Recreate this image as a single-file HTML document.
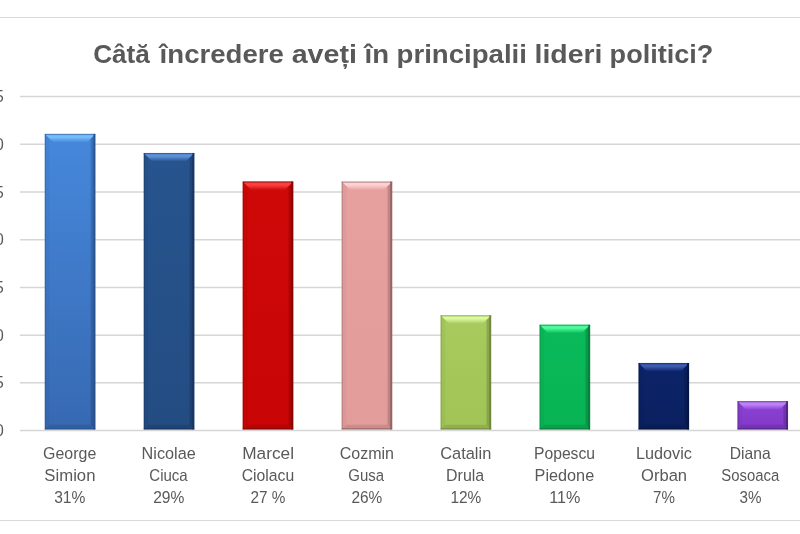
<!DOCTYPE html>
<html lang="ro"><head><meta charset="utf-8"><title>Câtă încredere aveți în principalii lideri politici?</title>
<style>html,body{margin:0;padding:0;background:#fff}body{width:800px;height:534px;overflow:hidden}svg{display:block}text{font-family:"Liberation Sans",sans-serif;fill:#595959}</style></head><body>
<svg width="800" height="534" viewBox="0 0 800 534">
<rect width="800" height="534" fill="#fff"/>
<line x1="0" y1="17.5" x2="800" y2="17.5" stroke="#d9d9d9" stroke-width="1"/>
<line x1="0" y1="520.5" x2="800" y2="520.5" stroke="#d9d9d9" stroke-width="1"/>
<line x1="20" y1="96.50" x2="800" y2="96.50" stroke="#d6d6d6" stroke-width="1.5"/>
<line x1="20" y1="144.23" x2="800" y2="144.23" stroke="#d6d6d6" stroke-width="1.5"/>
<line x1="20" y1="191.96" x2="800" y2="191.96" stroke="#d6d6d6" stroke-width="1.5"/>
<line x1="20" y1="239.69" x2="800" y2="239.69" stroke="#d6d6d6" stroke-width="1.5"/>
<line x1="20" y1="287.41" x2="800" y2="287.41" stroke="#d6d6d6" stroke-width="1.5"/>
<line x1="20" y1="335.14" x2="800" y2="335.14" stroke="#d6d6d6" stroke-width="1.5"/>
<line x1="20" y1="382.87" x2="800" y2="382.87" stroke="#d6d6d6" stroke-width="1.5"/>
<line x1="20" y1="430.60" x2="800" y2="430.60" stroke="#d6d6d6" stroke-width="1.5"/>
<g>
<text transform="translate(93.15 63.00) scale(1.0479 1)" font-size="25" font-weight="bold" fill="#4f555b">Câtă</text>
<text transform="translate(159.60 63.00) scale(1.1042 1)" font-size="25" font-weight="bold" fill="#4f555b">încredere</text>
<text transform="translate(291.64 63.00) scale(1.1468 1)" font-size="25" font-weight="bold" fill="#4f555b">aveți</text>
<text transform="translate(364.60 63.00) scale(1.1034 1)" font-size="25" font-weight="bold" fill="#4f555b">în</text>
<text transform="translate(396.57 63.00) scale(1.1048 1)" font-size="25" font-weight="bold" fill="#4f555b">principalii</text>
<text transform="translate(534.51 63.00) scale(1.1378 1)" font-size="25" font-weight="bold" fill="#4f555b">lideri</text>
<text transform="translate(609.60 63.00) scale(1.0836 1)" font-size="25" font-weight="bold" fill="#4f555b">politici?</text>
</g>
<text x="3.9" y="102.10" font-size="15.8" text-anchor="end">35</text>
<text x="3.9" y="149.83" font-size="15.8" text-anchor="end">30</text>
<text x="3.9" y="197.56" font-size="15.8" text-anchor="end">25</text>
<text x="3.9" y="245.29" font-size="15.8" text-anchor="end">20</text>
<text x="3.9" y="293.01" font-size="15.8" text-anchor="end">15</text>
<text x="3.9" y="340.74" font-size="15.8" text-anchor="end">10</text>
<text x="3.9" y="388.47" font-size="15.8" text-anchor="end">5</text>
<text x="3.9" y="436.20" font-size="15.8" text-anchor="end">0</text>
<defs>
<linearGradient id="m0" x1="0" y1="0" x2="0" y2="1"><stop offset="0" stop-color="#4688dc"/><stop offset="1" stop-color="#3769b2"/></linearGradient>
<linearGradient id="t0" x1="0" y1="0" x2="0" y2="1"><stop offset="0" stop-color="#74bcfa"/><stop offset="0.4" stop-color="#74bcfa"/><stop offset="1" stop-color="#4688dc"/></linearGradient>
<linearGradient id="m1" x1="0" y1="0" x2="0" y2="1"><stop offset="0" stop-color="#27548e"/><stop offset="1" stop-color="#234c82"/></linearGradient>
<linearGradient id="t1" x1="0" y1="0" x2="0" y2="1"><stop offset="0" stop-color="#5c92da"/><stop offset="0.4" stop-color="#5c92da"/><stop offset="1" stop-color="#27548e"/></linearGradient>
<linearGradient id="m2" x1="0" y1="0" x2="0" y2="1"><stop offset="0" stop-color="#cf0808"/><stop offset="1" stop-color="#c90505"/></linearGradient>
<linearGradient id="t2" x1="0" y1="0" x2="0" y2="1"><stop offset="0" stop-color="#fb4040"/><stop offset="0.4" stop-color="#fb4040"/><stop offset="1" stop-color="#cf0808"/></linearGradient>
<linearGradient id="m3" x1="0" y1="0" x2="0" y2="1"><stop offset="0" stop-color="#e6a09e"/><stop offset="1" stop-color="#e29c9a"/></linearGradient>
<linearGradient id="t3" x1="0" y1="0" x2="0" y2="1"><stop offset="0" stop-color="#fdd2d2"/><stop offset="0.4" stop-color="#fdd2d2"/><stop offset="1" stop-color="#e6a09e"/></linearGradient>
<linearGradient id="m4" x1="0" y1="0" x2="0" y2="1"><stop offset="0" stop-color="#a8ca5e"/><stop offset="1" stop-color="#a2c456"/></linearGradient>
<linearGradient id="t4" x1="0" y1="0" x2="0" y2="1"><stop offset="0" stop-color="#dafa9c"/><stop offset="0.4" stop-color="#dafa9c"/><stop offset="1" stop-color="#a8ca5e"/></linearGradient>
<linearGradient id="m5" x1="0" y1="0" x2="0" y2="1"><stop offset="0" stop-color="#0aba5a"/><stop offset="1" stop-color="#08b454"/></linearGradient>
<linearGradient id="t5" x1="0" y1="0" x2="0" y2="1"><stop offset="0" stop-color="#4cfa9a"/><stop offset="0.4" stop-color="#4cfa9a"/><stop offset="1" stop-color="#0aba5a"/></linearGradient>
<linearGradient id="m6" x1="0" y1="0" x2="0" y2="1"><stop offset="0" stop-color="#0c2468"/><stop offset="1" stop-color="#0a2060"/></linearGradient>
<linearGradient id="t6" x1="0" y1="0" x2="0" y2="1"><stop offset="0" stop-color="#3c5cb0"/><stop offset="0.4" stop-color="#3c5cb0"/><stop offset="1" stop-color="#0c2468"/></linearGradient>
<linearGradient id="m7" x1="0" y1="0" x2="0" y2="1"><stop offset="0" stop-color="#8c42d2"/><stop offset="1" stop-color="#8238c8"/></linearGradient>
<linearGradient id="t7" x1="0" y1="0" x2="0" y2="1"><stop offset="0" stop-color="#c080fa"/><stop offset="0.4" stop-color="#c080fa"/><stop offset="1" stop-color="#8c42d2"/></linearGradient>
</defs>
<g>
<rect x="44.80" y="133.88" width="50.5" height="295.52" fill="url(#m0)"/>
<polygon points="44.80,133.88 49.40,138.48 49.40,424.80 44.80,429.40" fill="#000" fill-opacity="0.03"/>
<polygon points="95.30,133.88 90.70,138.48 90.70,424.80 95.30,429.40" fill="#000" fill-opacity="0.16"/>
<polygon points="44.80,429.40 49.40,424.80 90.70,424.80 95.30,429.40" fill="#000" fill-opacity="0.10"/>
<polygon points="44.80,133.88 95.30,133.88 86.80,142.38 53.30,142.38" fill="url(#t0)"/>
<rect x="93.30" y="133.88" width="2" height="295.52" fill="#27508c" fill-opacity="0.8"/>
<rect x="44.80" y="133.88" width="1" height="295.52" fill="#27508c" fill-opacity="0.45"/>
<rect x="44.80" y="428.20" width="50.5" height="1.2" fill="#27508c" fill-opacity="0.7"/>
<rect x="44.80" y="133.88" width="50.5" height="1.2" fill="#27508c" fill-opacity="0.5"/>
</g>
<g>
<rect x="143.76" y="152.97" width="50.5" height="276.43" fill="url(#m1)"/>
<polygon points="143.76,152.97 148.36,157.57 148.36,424.80 143.76,429.40" fill="#000" fill-opacity="0.03"/>
<polygon points="194.26,152.97 189.66,157.57 189.66,424.80 194.26,429.40" fill="#000" fill-opacity="0.16"/>
<polygon points="143.76,429.40 148.36,424.80 189.66,424.80 194.26,429.40" fill="#000" fill-opacity="0.10"/>
<polygon points="143.76,152.97 194.26,152.97 185.76,161.47 152.26,161.47" fill="url(#t1)"/>
<rect x="192.26" y="152.97" width="2" height="276.43" fill="#16335c" fill-opacity="0.8"/>
<rect x="143.76" y="152.97" width="1" height="276.43" fill="#16335c" fill-opacity="0.45"/>
<rect x="143.76" y="428.20" width="50.5" height="1.2" fill="#16335c" fill-opacity="0.7"/>
<rect x="143.76" y="152.97" width="50.5" height="1.2" fill="#16335c" fill-opacity="0.5"/>
</g>
<g>
<rect x="242.72" y="181.61" width="50.5" height="247.79" fill="url(#m2)"/>
<polygon points="242.72,181.61 247.32,186.21 247.32,424.80 242.72,429.40" fill="#000" fill-opacity="0.03"/>
<polygon points="293.22,181.61 288.62,186.21 288.62,424.80 293.22,429.40" fill="#000" fill-opacity="0.16"/>
<polygon points="242.72,429.40 247.32,424.80 288.62,424.80 293.22,429.40" fill="#000" fill-opacity="0.10"/>
<polygon points="242.72,181.61 293.22,181.61 284.72,190.11 251.22,190.11" fill="url(#t2)"/>
<rect x="291.22" y="181.61" width="2" height="247.79" fill="#7d0606" fill-opacity="0.8"/>
<rect x="242.72" y="181.61" width="1" height="247.79" fill="#7d0606" fill-opacity="0.45"/>
<rect x="242.72" y="428.20" width="50.5" height="1.2" fill="#7d0606" fill-opacity="0.7"/>
<rect x="242.72" y="181.61" width="50.5" height="1.2" fill="#7d0606" fill-opacity="0.5"/>
</g>
<g>
<rect x="341.68" y="181.61" width="50.5" height="247.79" fill="url(#m3)"/>
<polygon points="341.68,181.61 346.28,186.21 346.28,424.80 341.68,429.40" fill="#000" fill-opacity="0.03"/>
<polygon points="392.18,181.61 387.58,186.21 387.58,424.80 392.18,429.40" fill="#000" fill-opacity="0.16"/>
<polygon points="341.68,429.40 346.28,424.80 387.58,424.80 392.18,429.40" fill="#000" fill-opacity="0.10"/>
<polygon points="341.68,181.61 392.18,181.61 383.68,190.11 350.18,190.11" fill="url(#t3)"/>
<rect x="390.18" y="181.61" width="2" height="247.79" fill="#8c5c5c" fill-opacity="0.8"/>
<rect x="341.68" y="181.61" width="1" height="247.79" fill="#8c5c5c" fill-opacity="0.45"/>
<rect x="341.68" y="428.20" width="50.5" height="1.2" fill="#8c5c5c" fill-opacity="0.7"/>
<rect x="341.68" y="181.61" width="50.5" height="1.2" fill="#8c5c5c" fill-opacity="0.5"/>
</g>
<g>
<rect x="440.64" y="315.25" width="50.5" height="114.15" fill="url(#m4)"/>
<polygon points="440.64,315.25 445.24,319.85 445.24,424.80 440.64,429.40" fill="#000" fill-opacity="0.03"/>
<polygon points="491.14,315.25 486.54,319.85 486.54,424.80 491.14,429.40" fill="#000" fill-opacity="0.16"/>
<polygon points="440.64,429.40 445.24,424.80 486.54,424.80 491.14,429.40" fill="#000" fill-opacity="0.10"/>
<polygon points="440.64,315.25 491.14,315.25 482.64,323.75 449.14,323.75" fill="url(#t4)"/>
<rect x="489.14" y="315.25" width="2" height="114.15" fill="#6a8240" fill-opacity="0.8"/>
<rect x="440.64" y="315.25" width="1" height="114.15" fill="#6a8240" fill-opacity="0.45"/>
<rect x="440.64" y="428.20" width="50.5" height="1.2" fill="#6a8240" fill-opacity="0.7"/>
<rect x="440.64" y="315.25" width="50.5" height="1.2" fill="#6a8240" fill-opacity="0.5"/>
</g>
<g>
<rect x="539.60" y="324.80" width="50.5" height="104.60" fill="url(#m5)"/>
<polygon points="539.60,324.80 544.20,329.40 544.20,424.80 539.60,429.40" fill="#000" fill-opacity="0.03"/>
<polygon points="590.10,324.80 585.50,329.40 585.50,424.80 590.10,429.40" fill="#000" fill-opacity="0.16"/>
<polygon points="539.60,429.40 544.20,424.80 585.50,424.80 590.10,429.40" fill="#000" fill-opacity="0.10"/>
<polygon points="539.60,324.80 590.10,324.80 581.60,333.30 548.10,333.30" fill="url(#t5)"/>
<rect x="588.10" y="324.80" width="2" height="104.60" fill="#0a783a" fill-opacity="0.8"/>
<rect x="539.60" y="324.80" width="1" height="104.60" fill="#0a783a" fill-opacity="0.45"/>
<rect x="539.60" y="428.20" width="50.5" height="1.2" fill="#0a783a" fill-opacity="0.7"/>
<rect x="539.60" y="324.80" width="50.5" height="1.2" fill="#0a783a" fill-opacity="0.5"/>
</g>
<g>
<rect x="638.56" y="362.98" width="50.5" height="66.42" fill="url(#m6)"/>
<polygon points="638.56,362.98 643.16,367.58 643.16,424.80 638.56,429.40" fill="#000" fill-opacity="0.03"/>
<polygon points="689.06,362.98 684.46,367.58 684.46,424.80 689.06,429.40" fill="#000" fill-opacity="0.16"/>
<polygon points="638.56,429.40 643.16,424.80 684.46,424.80 689.06,429.40" fill="#000" fill-opacity="0.10"/>
<polygon points="638.56,362.98 689.06,362.98 680.56,371.48 647.06,371.48" fill="url(#t6)"/>
<rect x="687.06" y="362.98" width="2" height="66.42" fill="#06143c" fill-opacity="0.8"/>
<rect x="638.56" y="362.98" width="1" height="66.42" fill="#06143c" fill-opacity="0.45"/>
<rect x="638.56" y="428.20" width="50.5" height="1.2" fill="#06143c" fill-opacity="0.7"/>
<rect x="638.56" y="362.98" width="50.5" height="1.2" fill="#06143c" fill-opacity="0.5"/>
</g>
<g>
<rect x="737.52" y="401.16" width="50.5" height="28.24" fill="url(#m7)"/>
<polygon points="737.52,401.16 742.12,405.76 742.12,424.80 737.52,429.40" fill="#000" fill-opacity="0.03"/>
<polygon points="788.02,401.16 783.42,405.76 783.42,424.80 788.02,429.40" fill="#000" fill-opacity="0.16"/>
<polygon points="737.52,429.40 742.12,424.80 783.42,424.80 788.02,429.40" fill="#000" fill-opacity="0.10"/>
<polygon points="737.52,401.16 788.02,401.16 779.52,409.66 746.02,409.66" fill="url(#t7)"/>
<rect x="786.02" y="401.16" width="2" height="28.24" fill="#4c2080" fill-opacity="0.8"/>
<rect x="737.52" y="401.16" width="1" height="28.24" fill="#4c2080" fill-opacity="0.45"/>
<rect x="737.52" y="428.20" width="50.5" height="1.2" fill="#4c2080" fill-opacity="0.7"/>
<rect x="737.52" y="401.16" width="50.5" height="1.2" fill="#4c2080" fill-opacity="0.5"/>
</g>
<g>
<text transform="translate(43.07 458.70) scale(0.9682 1)" font-size="16.5" fill="#595959">George</text>
<text transform="translate(141.57 458.70) scale(0.9849 1)" font-size="16.5" fill="#595959">Nicolae</text>
<text transform="translate(242.19 458.70) scale(1.0468 1)" font-size="16.5" fill="#595959">Marcel</text>
<text transform="translate(339.67 458.70) scale(0.9722 1)" font-size="16.5" fill="#595959">Cozmin</text>
<text transform="translate(440.25 458.70) scale(0.9939 1)" font-size="16.5" fill="#595959">Catalin</text>
<text transform="translate(533.91 458.70) scale(0.9532 1)" font-size="16.5" fill="#595959">Popescu</text>
<text transform="translate(635.97 458.70) scale(0.9846 1)" font-size="16.5" fill="#595959">Ludovic</text>
<text transform="translate(729.71 458.70) scale(0.9485 1)" font-size="16.5" fill="#595959">Diana</text>
</g>
<g>
<text transform="translate(44.34 480.80) scale(1.0144 1)" font-size="16.5" fill="#595959">Simion</text>
<text transform="translate(149.32 480.80) scale(0.9108 1)" font-size="16.5" fill="#595959">Ciuca</text>
<text transform="translate(241.68 480.80) scale(0.9540 1)" font-size="16.5" fill="#595959">Ciolacu</text>
<text transform="translate(348.32 480.80) scale(0.9058 1)" font-size="16.5" fill="#595959">Gusa</text>
<text transform="translate(446.09 480.80) scale(0.9673 1)" font-size="16.5" fill="#595959">Drula</text>
<text transform="translate(534.57 480.80) scale(0.9863 1)" font-size="16.5" fill="#595959">Piedone</text>
<text transform="translate(641.05 480.80) scale(1.0045 1)" font-size="16.5" fill="#595959">Orban</text>
<text transform="translate(721.32 480.80) scale(0.9024 1)" font-size="16.5" fill="#595959">Sosoaca</text>
</g>
<g>
<text transform="translate(54.16 503.00) scale(0.9884 1)" font-size="15.8" fill="#595959">31%</text>
<text transform="translate(153.16 503.00) scale(0.9884 1)" font-size="15.8" fill="#595959">29%</text>
<text transform="translate(250.57 503.00) scale(0.9698 1)" font-size="15.8" fill="#595959">27 %</text>
<text transform="translate(351.47 503.00) scale(0.9752 1)" font-size="15.8" fill="#595959">26%</text>
<text transform="translate(450.38 503.00) scale(0.9782 1)" font-size="15.8" fill="#595959">12%</text>
<text transform="translate(549.32 503.00) scale(1.0211 1)" font-size="15.8" fill="#595959">11%</text>
<text transform="translate(653.08 503.00) scale(0.9581 1)" font-size="15.8" fill="#595959">7%</text>
<text transform="translate(739.58 503.00) scale(0.9628 1)" font-size="15.8" fill="#595959">3%</text>
</g>
</svg></body></html>
